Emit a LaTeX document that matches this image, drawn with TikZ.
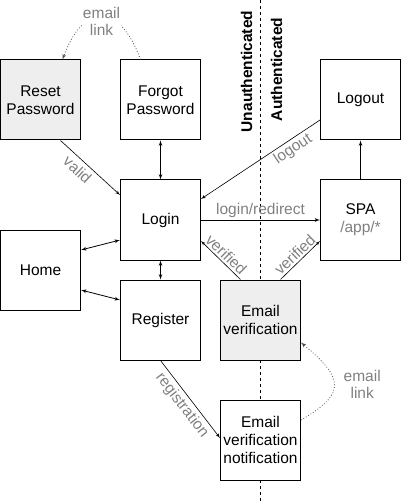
\documentclass[tikz,border=0pt]{standalone}
\usepackage{fontspec}
\setmainfont{Liberation Sans}
\usetikzlibrary{shapes,arrows,positioning}
\definecolor{boxgray}{HTML}{EEEEEE}
\definecolor{labelgray}{HTML}{808080}
\tikzstyle{block} = [rectangle, draw, line width=1pt, fill=white, align=center,
    minimum width=80pt, minimum height=80pt, inner sep=2pt, font=\fontsize{15.5}{18.3}\selectfont]
\tikzstyle{blockgray} = [block, fill=boxgray]
\tikzstyle{line} = [draw, line width=0.8pt, -latex']
\tikzstyle{twoway} = [draw, line width=0.8pt, latex'-latex']
\tikzstyle{thinline} = [draw, line width=0.6pt, -latex']
\tikzstyle{maillink} = [draw, black!70, line width=0.8pt, dotted, -latex']
\tikzstyle{mylabel} = [text=labelgray, align=center, inner sep=1pt, font=\fontsize{15.5}{17.5}\selectfont]
\tikzstyle{zone} = [rotate=90, font=\fontsize{15.5}{18}\selectfont\bfseries]

\begin{document}
\begin{tikzpicture}[x=1pt, y=1pt, node distance=120pt, auto]
    \useasboundingbox (0,0) rectangle (401,-502);
    % the border between the two zones
    \coordinate (top) at (260,0);
    \coordinate (bottom) at (260,-502);
    \draw [dashed, line width=0.8pt] (top) -- (bottom);
    \node [zone] (unauth) at (246.5,-71.5) {Unauthenticated};
    \node [zone] (auth) at (276.5,-69.5) {Authenticated};
    % Place nodes
    \node [blockgray] (reset) at (40.5,-100) {Reset\\Password};
    \node [block, right of=reset] (forgot) {Forgot\\Password};
    \node [block, below of=forgot] (login) {Login};
    \node [block, right of=forgot, node distance=200pt] (logout) {Logout};
    \node [block, below of=logout] (spa) {SPA\\{\color{labelgray}/app/*}};
    \node [block, left of=login, yshift=-50pt] (home) {Home};
    \node [block, below of=login, node distance=100pt] (register) {Register};
    \node [blockgray, right of=register, node distance=100pt] (verify) {Email\\verification};
    \node [block, below of=verify] (notify) {Email\\verification\\notification};
    % Draw edges
    \path [twoway] (forgot) -- (login);
    \path [twoway] (login) -- (register);
    \path [twoway] ([yshift=20pt]home.east) -- ([yshift=-20pt]login.west);
    \path [twoway] ([yshift=-20pt]home.east) -- ([yshift=20pt]register.west);
    \path [line] (spa) -- (logout);
    \path [line] (login.east) -- node [mylabel, above=1pt] {login/redirect} (spa.west);
    \path [thinline] ([xshift=20pt]reset.south) -- node [mylabel, sloped, below=3pt, pos=0.4] {valid} ([yshift=25pt]login.west);
    \path [thinline] ([yshift=-20pt]logout.west) -- node [mylabel, sloped, below=1pt, pos=0.27] {logout} ([yshift=21pt]login.east);
    \path [thinline] ([xshift=-20pt]verify.north) -- node [mylabel, sloped, above=1pt] {verified} ([yshift=-21pt]login.east);
    \path [thinline] ([xshift=20pt]verify.north) -- node [mylabel, sloped, above=1pt] {verified} ([yshift=-21pt]spa.west);
    \path [thinline] (register.south) -- node [mylabel, sloped, below=2pt] {registration} ([yshift=2pt]notify.west);
    % the email links
    \path [maillink] ([xshift=-20pt]forgot.north) to [out=110, in=70, looseness=2]
        node [mylabel, fill=white, yshift=11pt] {email\\link} ([xshift=22pt]reset.north);
    \path [maillink] ([yshift=20pt]notify.east) to [out=30, in=-40, looseness=1.8]
        node [mylabel, right=8pt] {email\\link} ([yshift=18pt]verify.south east);
\end{tikzpicture}
\end{document}
